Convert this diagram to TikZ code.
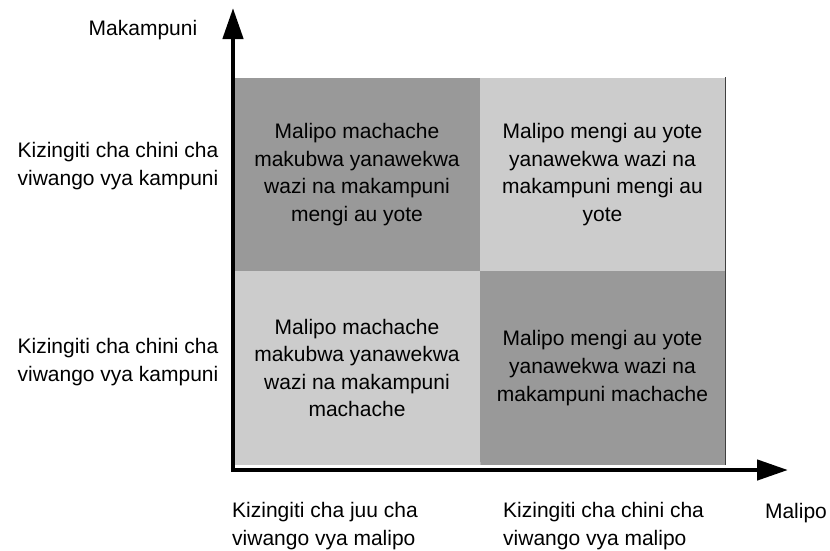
\documentclass[tikz,border=0pt]{standalone}
\usepackage{fontspec}
\setmainfont{Liberation Sans}
\usetikzlibrary{arrows.meta}
\definecolor{darkbox}{HTML}{999999}
\definecolor{lightbox}{HTML}{CCCCCC}
\begin{document}
\begin{tikzpicture}[x=1pt,y=-1pt,
  txt/.style={font=\fontsize{21}{27.6}\selectfont, inner sep=0pt, align=center},
  cell/.style={txt, rectangle, minimum width=246pt, minimum height=194pt, draw=none},
  axis/.style={line width=4.5pt, -{Triangle[length=31pt,width=20pt]}}]
\useasboundingbox (0,0) rectangle (830,550);
% cells
\node[cell, fill=darkbox]  (ul) at (357,174.5) {Malipo machache\\makubwa yanawekwa\\wazi na makampuni\\mengi au yote};
\node[cell, fill=lightbox] (ur) at (602.5,174.5) {Malipo mengi au yote\\yanawekwa wazi na\\makampuni mengi au\\yote};
\node[cell, fill=lightbox] (ll) at (357,368) {Malipo machache\\makubwa yanawekwa\\wazi na makampuni\\machache};
\node[cell, fill=darkbox]  (lr) at (602.5,368) {Malipo mengi au yote\\yanawekwa wazi na\\makampuni machache};
% thin edges
\draw[gray!60, line width=0.8pt] (ll.south east) -- ([yshift=3pt]ll.south east);
\draw[black!75, line width=1pt] (ur.north east) -- (lr.south east);
% axes
\coordinate (origin) at (233,470);
\coordinate (ytip) at (233,8);
\coordinate (xtip) at (788,470);
\draw[axis] ([yshift=2.5pt]origin) -- (ytip);
\draw[axis] ([xshift=-2.2pt]origin) -- (xtip);
% labels
\node[txt] (ylab) at (143,30) {Makampuni};
\node[txt] (xlab) at (796,513) {Malipo};
\node[txt] (l1) at (118,166) {Kizingiti cha chini cha\\viwango vya kampuni};
\node[txt] (l2) at (118,362) {Kizingiti cha chini cha\\viwango vya kampuni};
\node[txt, align=left, anchor=west] (b1) at (232,526) {Kizingiti cha juu cha\\viwango vya malipo};
\node[txt, align=left, anchor=west] (b2) at (503,526) {Kizingiti cha chini cha\\viwango vya malipo};
\end{tikzpicture}
\end{document}
